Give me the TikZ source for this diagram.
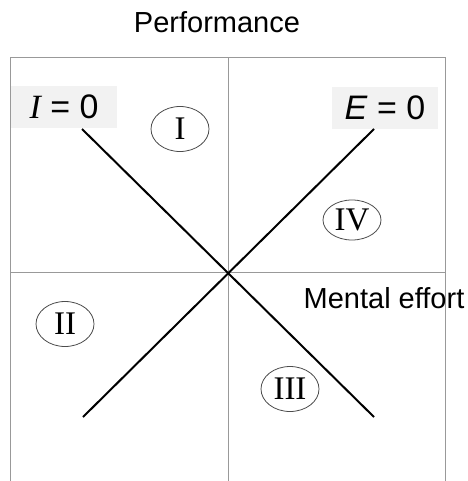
\documentclass[tikz,border=0pt]{standalone}
\usepackage{fontspec}
\setmainfont{Liberation Serif}
\setsansfont{Liberation Sans}
\usepackage{tikz}
\usetikzlibrary{shapes.geometric, positioning, calc}
\tikzset{
  gridline/.style={draw=black!40, line width=1pt},
  boundline/.style={line width=2pt, color=black},
  quadrant/.style={
    ellipse, draw=black!70, line width=0.8pt, inner sep=0pt,
    minimum width=58pt, minimum height=45pt,
    font=\fontsize{33}{33}\selectfont
  },
  zerolabel/.style={
    fill=gray!10, inner sep=0pt, minimum width=106pt, minimum height=42pt,
    font=\sffamily\fontsize{34}{34}\selectfont
  },
  axislabel/.style={
    font=\sffamily\fontsize{29}{29}\selectfont, inner sep=0pt
  },
}

\begin{document}
\begin{tikzpicture}[x=1pt, y=-1pt]
  \useasboundingbox (0,0) rectangle (467,481);

  % ── Frame and axes ──
  \draw[gridline] (10,481) -- (10,58) -- (445,58) -- (445,481);
  \draw[gridline] (228,58) -- (228,481);
  \draw[gridline] (10,272) -- (445,272);

  % ── Axis labels ──
  \node[axislabel] (perf) at (217,22) {Performance};
  \node[axislabel] (effort) at (384,298) {Mental effort};

  % ── Zero labels ──
  \node[zerolabel] (izero) at (64,107) {{\rmfamily\itshape I} = 0};
  \node[zerolabel] (ezero) at (385,108) {\textit{E} = 0};

  % ── Boundary lines ──
  \coordinate (iend) at (374,417);
  \coordinate (eend) at (83,417);
  \draw[boundline] (82,129) coordinate (istart) -- (iend);
  \draw[boundline] (374,129) coordinate (estart) -- (eend);

  % ── Quadrants ──
  \node[quadrant] (q1) at (180,129) {I};
  \node[quadrant, minimum height=40pt] (q4) at (352,220) {IV};
  \node[quadrant] (q2) at (65,324) {II};
  \node[quadrant] (q3) at (290,389) {III};
\end{tikzpicture}
\end{document}
